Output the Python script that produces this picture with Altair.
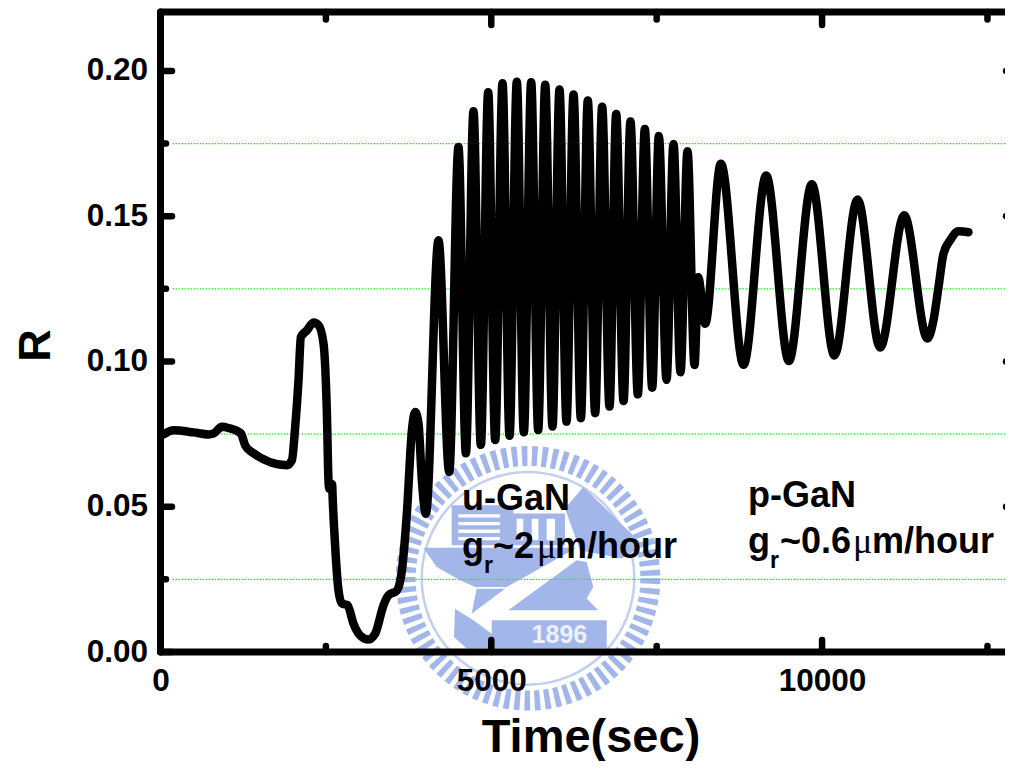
import altair as alt
import pandas as pd

# ---- curve (time in s, reflectivity) ----
time_s = [45, 197, 499, 726, 801, 928, 1028, 1215, 1280, 1381, 1910, 1986, 2036, 2086, 2122, 2213, 2313, 2388, 2464,
          2515, 2539, 2550, 2595, 2600, 2641, 2690, 2742, 2827, 2917, 3018, 3144, 3245, 3371, 3446, 3573, 3649, 3724,
          3800, 3850, 3900, 3951, 4011, 4202, 4364, 4504, 4616, 4731, 4842, 4953, 5059, 5170, 5276, 5386, 5492, 5603,
          5709, 5815, 5925, 6031, 6137, 6243, 6354, 6459, 6570, 6676, 6787, 6888, 6999, 7104, 7215, 7321, 7432, 7533,
          7649, 7754, 7860, 7966, 8072, 8127, 8233, 8470, 8813, 9155, 9498, 9845, 10187, 10536, 10878, 11241, 11593,
          11684, 11760, 11835, 11936, 12062, 12213]
refl = [.0749, .0763, .0756, .0749, .0752, .0775, .0771, .0752, .0711, .0688, .0643, .0660, .0775, .0935, .1084, .1107,
        .1134, .1125, .1062, .0822, .0591, .0562, .0577, .0545, .0361, .0212, .0167, .0161, .0098, .0057, .0043, .0063,
        .0161, .0195, .0212, .0281, .0477, .0763, .0826, .0786, .0591, .0476, .1417, .0620, .1738, .0684, .1861, .0713,
        .1927, .0730, .1958, .0744, .1963, .0756, .1961, .0764, .1953, .0776, .1936, .0793, .1919, .0805, .1898, .0822,
        .1877, .0845, .1852, .0864, .1826, .0887, .1800, .0910, .1776, .0937, .1749, .0963, .1724, .0988, .1290, .1130,
        .1681, .0989, .1640, .1002, .1610, .1021, .1558, .1048, .1503, .1079, .1142, .1256, .1371, .1417, .1448, .1445]

# ---- axes ----
x_labels = [0, 5000, 10000]
x_minor = [2500, 7500, 12500]
y_labels = [0.0, 0.05, 0.10, 0.15, 0.20]
y_minor = [0.025, 0.075, 0.125, 0.175]
X_MAX = 12765
Y_MAX = 0.2203
W, H = 844.5, 640

# ---- annotations ----
ann_text = ["u-GaN", "g", "r", "~2", "\u03bc", "m/hour", "p-GaN", "g", "r", "~0.6", "\u03bc", "m/hour"]
ann_t = [4556, 4556, 4889, 5026, 5691, 5963, 8880, 8880, 9212, 9363, 10467, 10755]
ann_r = [.0488, .0323, .0271, .0323, .0323, .0323, .0498, .0340, .0288, .0340, .0340, .0340]
ann_kind = ["big", "big", "sub", "big", "mu", "big", "big", "big", "sub", "big", "mu", "big"]

FONT = "Liberation Sans"
BLUE = "#a3b6ea"
xs = alt.Scale(domain=[0, X_MAX], nice=False, zero=False)
ys = alt.Scale(domain=[0, Y_MAX], nice=False, zero=False)
X = lambda f="t:Q": alt.X(f, scale=xs, axis=None)
Y = lambda f="r:Q": alt.Y(f, scale=ys, axis=None)


# ---- university seal watermark (drawn as symbols at one data point) ----
seal_t, seal_r = 5555, 0.02537
seal_df = pd.DataFrame({"t": [seal_t], "r": [seal_r]})


def seal_path(polys):
    out = []
    for poly in polys:
        pts = [((380 + zx / 3 - 528) / 148, (430 + zy / 3 - 578) / 148) for zx, zy in poly]
        out.append("M" + " L".join(f"{u:.3f},{v:.3f}" for u, v in pts) + " Z")
    return " ".join(out)


seal_blue = seal_path([
    [(215, 225), (400, 225), (400, 250), (555, 250), (555, 345), (215, 345)],
    [(130, 352), (590, 352), (380, 470), (285, 470), (240, 450), (170, 410)],
    [(555, 235), (610, 170), (790, 345), (725, 385), (600, 360)],
    [(385, 540), (590, 390), (620, 395), (640, 470), (620, 505), (655, 540)],
    [(290, 475), (375, 475), (275, 550)],
    [(225, 535), (280, 570), (335, 610), (335, 655), (260, 655), (222, 620)],
    [(335, 570), (680, 570), (680, 655), (335, 655)],
])
seal_white = seal_path([
    [(235, 252), (360, 252), (360, 262), (235, 262)],
    [(235, 275), (360, 275), (360, 285), (235, 285)],
    [(235, 298), (360, 298), (360, 308), (235, 308)],
    [(235, 320), (360, 320), (360, 330), (235, 330)],
    [(410, 265), (430, 265), (430, 330), (410, 330)],
    [(455, 265), (475, 265), (475, 330), (455, 330)],
    [(500, 265), (525, 265), (525, 330), (500, 330)],
])
SEAL_SIZE = (2 * 148) ** 2


def seal_symbol(shape, color):
    return alt.Chart(seal_df).mark_point(shape=shape, filled=True, fill=color, stroke=None, size=SEAL_SIZE, opacity=1).encode(
        x=X(), y=Y())


teeth = alt.Chart(seal_df).mark_point(shape="circle", filled=False, stroke=BLUE, strokeWidth=20, opacity=1,
                                      strokeDash=[5.5, 4.5], size=3.14159 * 138 ** 2).encode(x=X(), y=Y())
ring = alt.Chart(seal_df).mark_point(shape="circle", filled=False, stroke="#c3cfee", strokeWidth=2.5, opacity=1,
                                     size=3.14159 * 120 ** 2).encode(x=X(), y=Y())
seal_blue_layer = seal_symbol(seal_blue, BLUE)
seal_white_layer = seal_symbol(seal_white, "#ffffff")
seal_text = alt.Chart(pd.DataFrame({"t": [6030], "r": [0.0057], "s": ["1896"]})).mark_text(
    font=FONT, fontWeight="bold", fontSize=25, color="#eef1fb", align="center", baseline="middle").encode(
    x=X(), y=Y(), text="s:N")

# ---- grid ----
grid = alt.Chart(pd.DataFrame({"r": y_minor})).mark_rule(stroke="#22ee22", strokeWidth=1.2, strokeDash=[1.5, 1.5]).encode(
    y=Y(), x=alt.value(12), x2=alt.value(W))

# ---- curve ----
curve = alt.Chart(pd.DataFrame({"t": time_s, "r": refl})).mark_line(
    color="black", strokeWidth=8.5, interpolate="monotone", strokeCap="round", strokeJoin="round").encode(
    x=alt.X("t:Q", scale=xs, axis=alt.Axis(
        values=x_labels, format="d", grid=False, domain=False, ticks=False, tickSize=0, zindex=1,
        labelFont=FONT, labelFontWeight="bold", labelFontSize=31.5, labelColor="black", labelPadding=13,
        labelFlush=False, labelOverlap=False,
        title="Time(sec)", titleFont=FONT, titleFontWeight="bold", titleFontSize=47, titleColor="black",
        titleX=430, titleY=99, titleAnchor="middle", titleAlign="center", titleBaseline="alphabetic")),
    y=alt.Y("r:Q", scale=ys, axis=alt.Axis(
        values=y_labels, format=".2f", grid=False, domain=False, ticks=False, tickSize=0, zindex=1,
        labelFont=FONT, labelFontWeight="bold", labelFontSize=31.5, labelColor="black", labelPadding=13,
        labelOverlap=False, labelFlush=False,
        title="R", titleFont=FONT, titleFontWeight="bold", titleFontSize=45, titleColor="black",
        titleX=-111, titleY=333, titleAngle=270, titleAlign="center", titleBaseline="alphabetic")),
    order=alt.Order("idx:Q")).transform_window(idx="row_number()")


# ---- annotations ----
def ann(kind, size, font, weight):
    idx = [i for i, k in enumerate(ann_kind) if k == kind]
    df = pd.DataFrame({"t": [ann_t[i] for i in idx], "r": [ann_r[i] for i in idx], "s": [ann_text[i] for i in idx]})
    return alt.Chart(df).mark_text(font=font, fontWeight=weight, fontSize=size, color="black", align="left",
                                   baseline="alphabetic").encode(x=X(), y=Y(), text="s:N")


# ---- frame and inward ticks ----
TICK = dict(color="black", strokeWidth=6.5, strokeCap="round")
spine_left = alt.Chart(pd.DataFrame({"a": [0]})).mark_rule(color="black", strokeWidth=7, strokeCap="round").encode(
    x=alt.value(0), y=alt.value(0), y2=alt.value(H))
spine_top = alt.Chart(pd.DataFrame({"a": [0]})).mark_rule(color="black", strokeWidth=7, strokeCap="round").encode(
    y=alt.value(0), x=alt.value(0), x2=alt.value(W + 4))
spine_bottom = alt.Chart(pd.DataFrame({"a": [0]})).mark_rule(color="black", strokeWidth=7, strokeCap="round").encode(
    y=alt.value(H), x=alt.value(0), x2=alt.value(W + 4))


def yticks(vals, a, b):
    return alt.Chart(pd.DataFrame({"r": vals})).mark_rule(**TICK).encode(y=Y(), x=alt.value(a), x2=alt.value(b))


def xticks(vals, a, b):
    return alt.Chart(pd.DataFrame({"t": vals})).mark_rule(**TICK).encode(x=X(), y=alt.value(a), y2=alt.value(b))


chart = alt.layer(
    teeth, ring, seal_blue_layer, seal_white_layer, seal_text, grid, curve,
    ann("big", 36, FONT, "bold"), ann("sub", 23, FONT, "bold"), ann("mu", 36, "Liberation Serif", "normal"),
    spine_left, spine_top, spine_bottom,
    yticks(y_labels, 0, 11.5), yticks(y_minor, 0, 5.5),
    yticks(y_labels, W + 1, W + 4),
    xticks(x_labels[1:], H, H - 12), xticks(x_minor, H, H - 6),
    xticks(x_labels[1:], 0, 13), xticks(x_minor, 0, 7.5),
).resolve_scale(x="shared", y="shared").resolve_axis(x="independent", y="independent").properties(
    width=W, height=H,
    autosize=alt.AutoSizeParams(type="none"),
    padding={"left": 152.5, "top": 4, "right": 0, "bottom": 109},
    background="white",
).configure_view(stroke=None)

chart.save("out.html", embed_options={"renderer": "svg", "actions": False})
